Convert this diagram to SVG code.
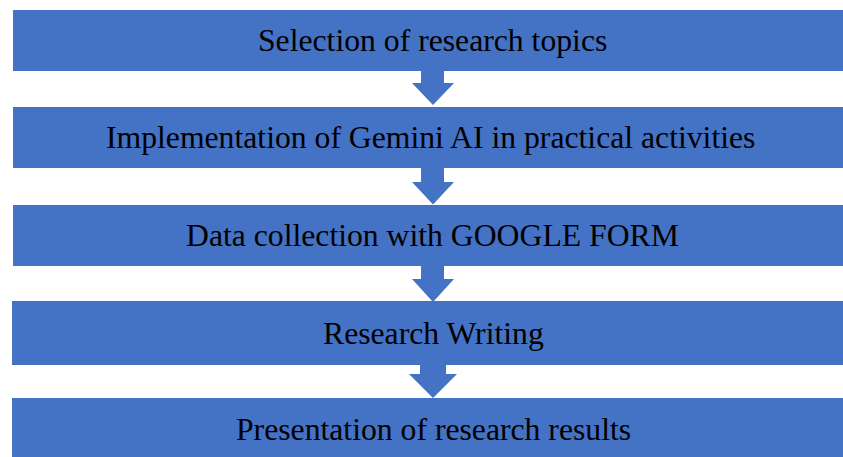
<svg xmlns="http://www.w3.org/2000/svg" width="843" height="457" viewBox="0 0 843 457">
  <style>
    .box { fill: #4472C4; }
    .arrow { fill: #4472C4; }
    .label { font-family: "Liberation Serif", "Times New Roman", serif; font-size: 31.7px; fill: #000000; }
  </style>
  <rect width="843" height="457" fill="#FFFFFF"/>

  <g id="step1">
    <rect class="box" x="13" y="10" width="830" height="61"/>
    <text class="label" x="258" y="51">Selection of research topics</text>
  </g>
  <g id="step2">
    <rect class="box" x="13" y="107" width="830" height="61"/>
    <text class="label" x="106" y="148">Implementation of Gemini AI in practical activities</text>
  </g>
  <g id="step3">
    <rect class="box" x="13" y="205" width="830" height="61"/>
    <text class="label" x="186" y="246">Data collection with GOOGLE FORM</text>
  </g>
  <g id="step4">
    <rect class="box" x="12" y="301" width="831" height="64"/>
    <text class="label" x="323" y="344">Research Writing</text>
  </g>
  <g id="step5">
    <rect class="box" x="12" y="398" width="831" height="59"/>
    <text class="label" x="236" y="440">Presentation of research results</text>
  </g>

  <!-- block arrows between consecutive steps -->
  <g id="connectors" class="arrow">
    <path d="M421 70 H444 V83 H454 L433 105 L412 83 H421 Z"/>
    <path d="M421 167 H444 V182 H454 L433 204.5 L412 182 H421 Z"/>
    <path d="M421 265 H444 V279 H454 L433 302 L412 279 H421 Z"/>
    <path d="M420 364 H446 V374 H457 L433 398 L409 374 H420 Z"/>
  </g>
</svg>
